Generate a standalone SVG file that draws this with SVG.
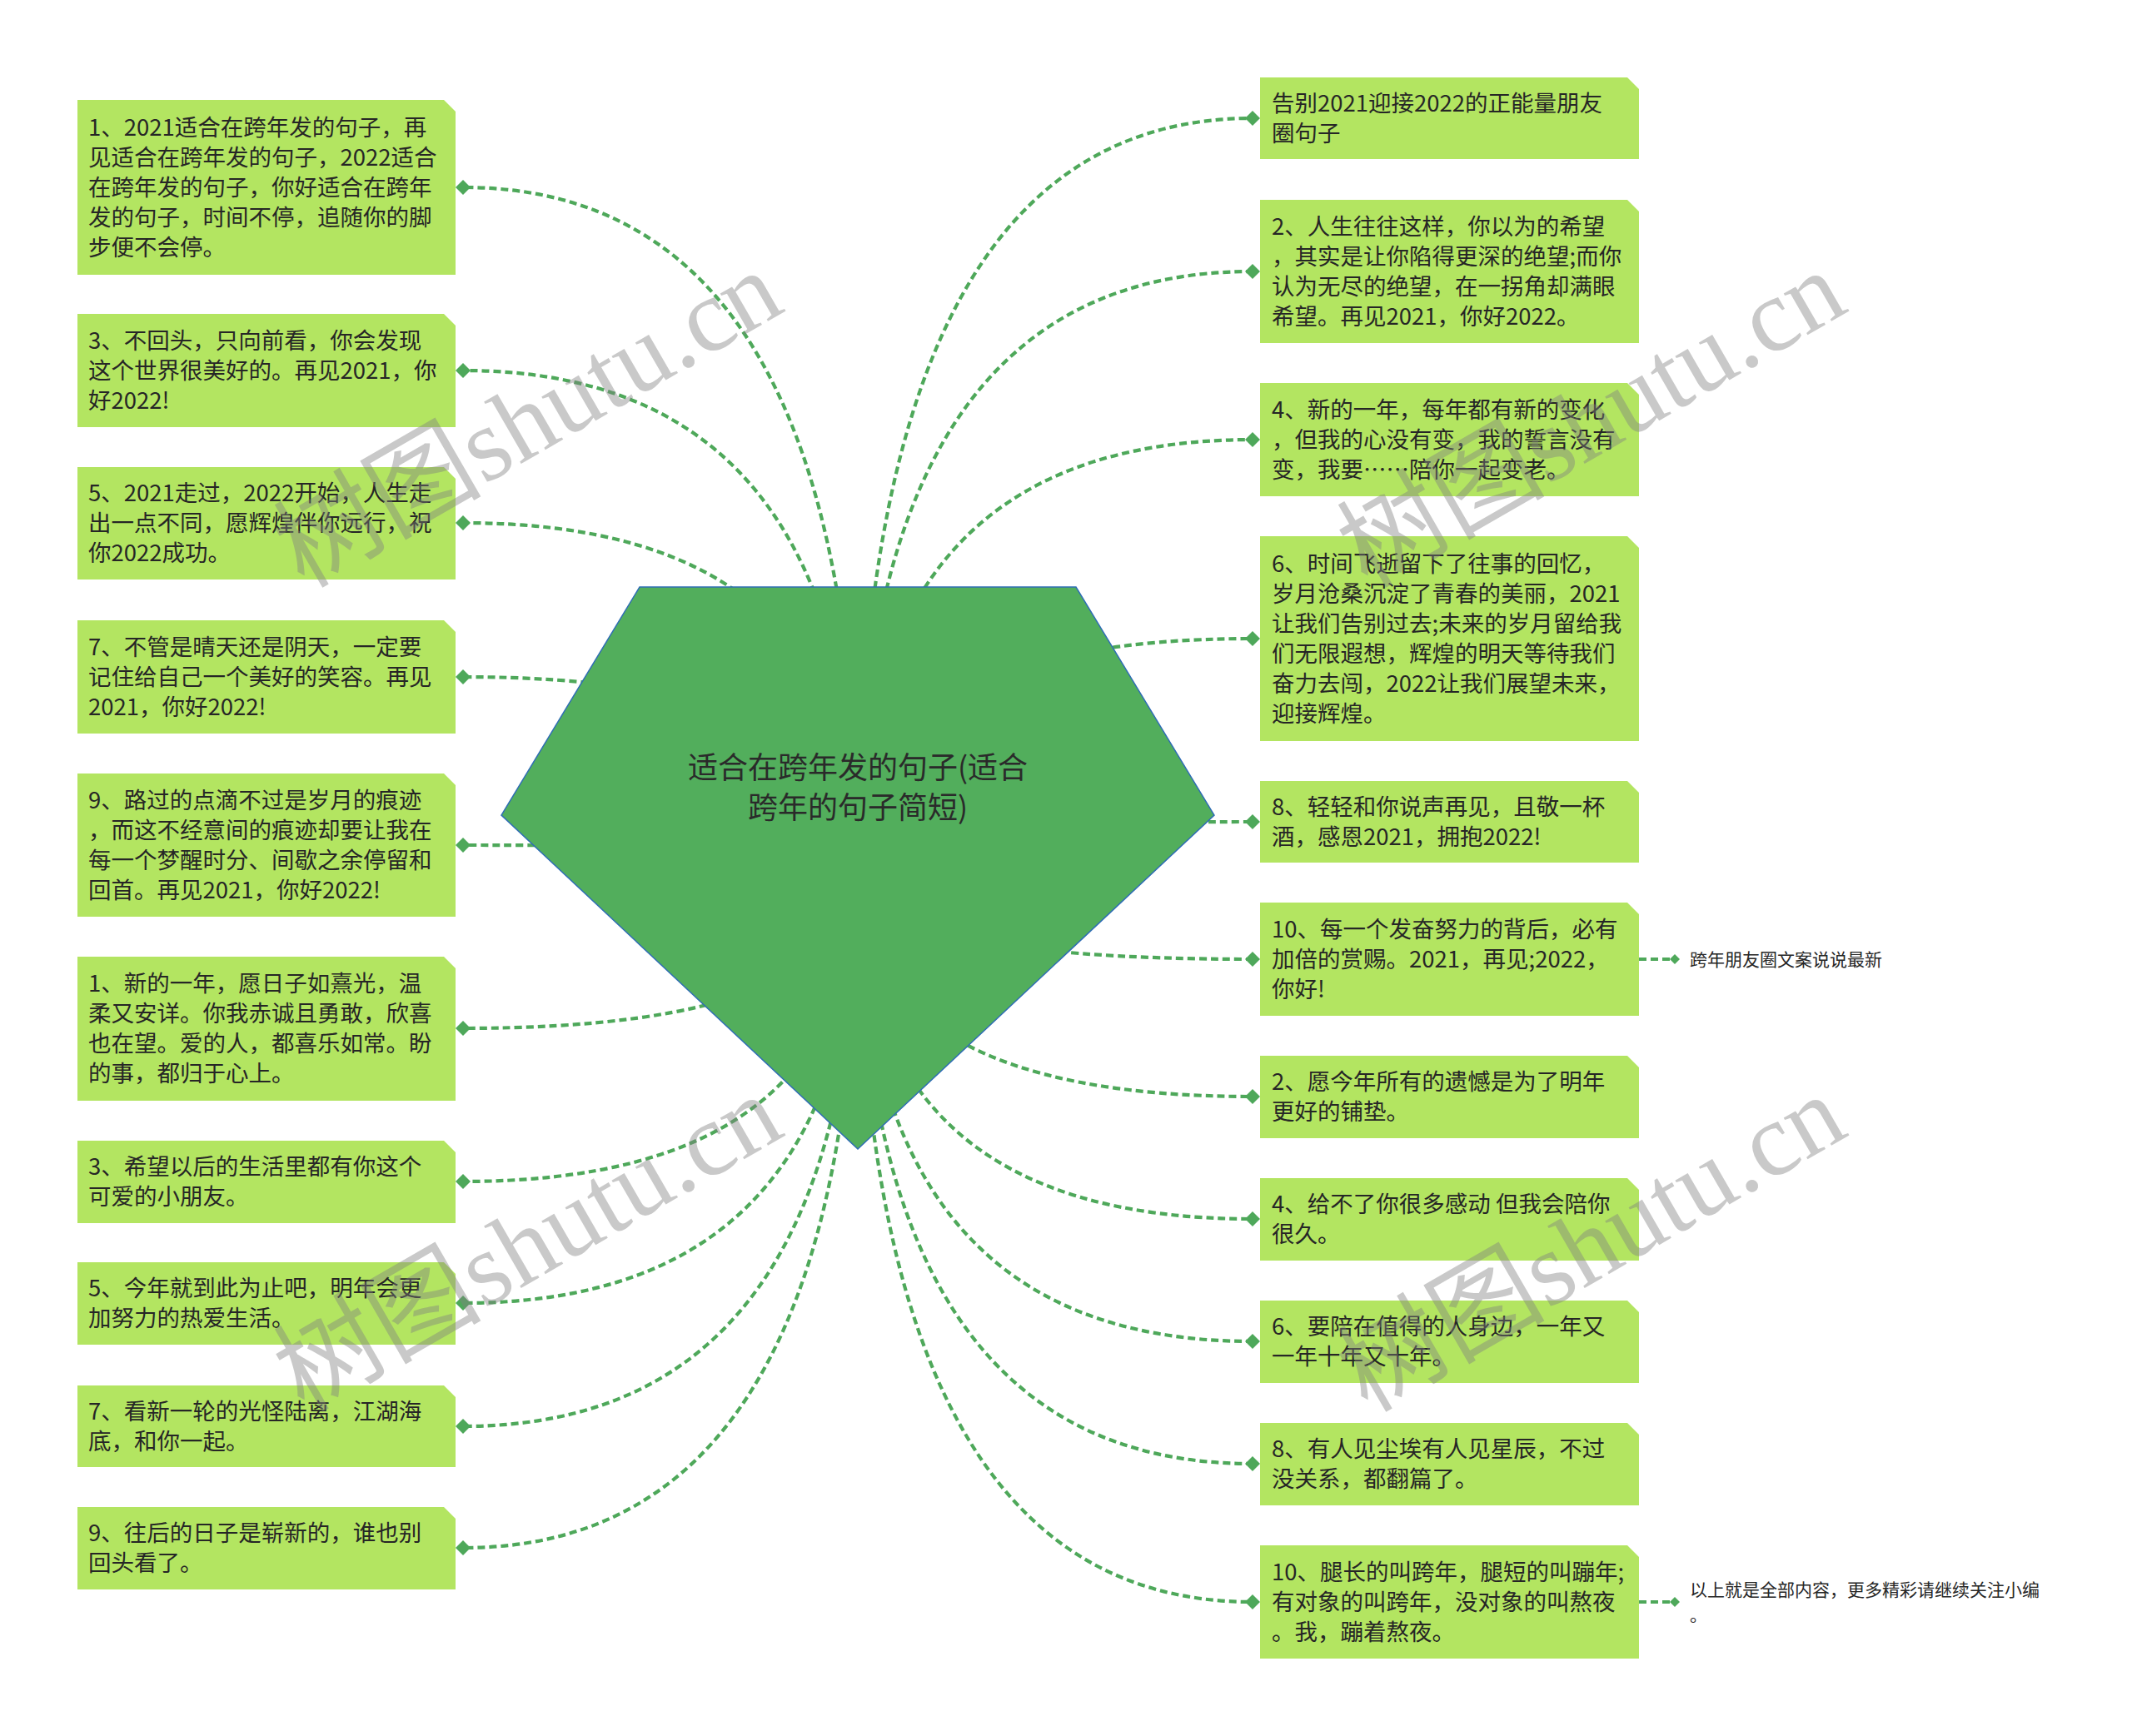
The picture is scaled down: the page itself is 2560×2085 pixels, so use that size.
<svg xmlns="http://www.w3.org/2000/svg" xmlns:xlink="http://www.w3.org/1999/xlink" width="2560" height="2085" viewBox="0 0 2560 2085">
<defs>
<style>
.conn{fill:none;stroke:#4ea85a;stroke-width:4.2;stroke-dasharray:9 5}
.dm{fill:#4ea85a}
.box{fill:#b3e561}
.t{font-family:"Noto Sans CJK SC","Noto Sans",sans-serif;font-size:27.5px;fill:#262626}
.small{font-family:"Noto Sans CJK SC","Noto Sans",sans-serif;font-size:21px;fill:#262626}
.center{font-family:"Noto Sans CJK SC","Noto Sans",sans-serif;font-size:36px;fill:#2a2a2a;text-anchor:middle}
.wm{font-family:"Liberation Serif","Noto Sans CJK SC",serif;font-size:125px;fill:#808080;opacity:0.42;text-anchor:middle}
</style>
<polygon id="dm" points="-9,0 0,-9 9,0 0,9"/>
<polygon id="sdm" points="-6,0 0,-6 6,0 0,6"/>
</defs>
<rect width="2560" height="2085" fill="#ffffff"/>

<g id="connectors">
<path class="conn" d="M1030 1042 Q1030 225 556 225"/>
<path class="conn" d="M1030 1042 Q1030 445 556 445"/>
<path class="conn" d="M1030 1042 Q1030 628 556 628"/>
<path class="conn" d="M1030 1042 Q1030 813 556 813"/>
<path class="conn" d="M1030 1042 Q1030 1015 556 1015"/>
<path class="conn" d="M1030 1042 Q1030 1235 556 1235"/>
<path class="conn" d="M1030 1042 Q1030 1419 556 1419"/>
<path class="conn" d="M1030 1042 Q1030 1565 556 1565"/>
<path class="conn" d="M1030 1042 Q1030 1713 556 1713"/>
<path class="conn" d="M1030 1042 Q1030 1859 556 1859"/>
<path class="conn" d="M1030 1042 Q1030 142 1504 142"/>
<path class="conn" d="M1030 1042 Q1030 326 1504 326"/>
<path class="conn" d="M1030 1042 Q1030 528 1504 528"/>
<path class="conn" d="M1030 1042 Q1030 767 1504 767"/>
<path class="conn" d="M1030 1042 Q1030 987 1504 987"/>
<path class="conn" d="M1030 1042 Q1030 1152 1504 1152"/>
<path class="conn" d="M1030 1042 Q1030 1317 1504 1317"/>
<path class="conn" d="M1030 1042 Q1030 1464 1504 1464"/>
<path class="conn" d="M1030 1042 Q1030 1611 1504 1611"/>
<path class="conn" d="M1030 1042 Q1030 1758 1504 1758"/>
<path class="conn" d="M1030 1042 Q1030 1924 1504 1924"/>
<path class="conn" d="M1968 1152 H2008"/>
<path class="conn" d="M1968 1924 H2008"/>
<g class="dm">
<use xlink:href="#dm" x="556" y="225"/>
<use xlink:href="#dm" x="556" y="445"/>
<use xlink:href="#dm" x="556" y="628"/>
<use xlink:href="#dm" x="556" y="813"/>
<use xlink:href="#dm" x="556" y="1015"/>
<use xlink:href="#dm" x="556" y="1235"/>
<use xlink:href="#dm" x="556" y="1419"/>
<use xlink:href="#dm" x="556" y="1565"/>
<use xlink:href="#dm" x="556" y="1713"/>
<use xlink:href="#dm" x="556" y="1859"/>
<use xlink:href="#dm" x="1504" y="142"/>
<use xlink:href="#dm" x="1504" y="326"/>
<use xlink:href="#dm" x="1504" y="528"/>
<use xlink:href="#dm" x="1504" y="767"/>
<use xlink:href="#dm" x="1504" y="987"/>
<use xlink:href="#dm" x="1504" y="1152"/>
<use xlink:href="#dm" x="1504" y="1317"/>
<use xlink:href="#dm" x="1504" y="1464"/>
<use xlink:href="#dm" x="1504" y="1611"/>
<use xlink:href="#dm" x="1504" y="1758"/>
<use xlink:href="#dm" x="1504" y="1924"/>
<use xlink:href="#sdm" x="2011" y="1152"/>
<use xlink:href="#sdm" x="2011" y="1924"/>
</g>
</g>

<g id="root">
<polygon points="768,705 1292,705 1458,979 1030,1380 602,979" fill="#52ae5c" stroke="#2f6db5" stroke-width="1.5"/>
<text class="center" x="1030" y="935">适合在跨年发的句子(适合</text>
<text class="center" x="1030" y="983">跨年的句子简短)</text>
</g>

<g id="L1"><path class="box" d="M93 120 H533 L547 134 V330 H93 Z"/>
<text class="t" x="106" y="163">1、2021适合在跨年发的句子，再</text>
<text class="t" x="106" y="199">见适合在跨年发的句子，2022适合</text>
<text class="t" x="106" y="235">在跨年发的句子，你好适合在跨年</text>
<text class="t" x="106" y="271">发的句子，时间不停，追随你的脚</text>
<text class="t" x="106" y="307">步便不会停。</text></g>

<g id="L2"><path class="box" d="M93 377 H533 L547 391 V513 H93 Z"/>
<text class="t" x="106" y="419">3、不回头，只向前看，你会发现</text>
<text class="t" x="106" y="455">这个世界很美好的。再见2021，你</text>
<text class="t" x="106" y="491">好2022!</text></g>

<g id="L3"><path class="box" d="M93 561 H533 L547 575 V696 H93 Z"/>
<text class="t" x="106" y="602">5、2021走过，2022开始，人生走</text>
<text class="t" x="106" y="638">出一点不同，愿辉煌伴你远行，祝</text>
<text class="t" x="106" y="674">你2022成功。</text></g>

<g id="L4"><path class="box" d="M93 745 H533 L547 759 V881 H93 Z"/>
<text class="t" x="106" y="787">7、不管是晴天还是阴天，一定要</text>
<text class="t" x="106" y="823">记住给自己一个美好的笑容。再见</text>
<text class="t" x="106" y="859">2021，你好2022!</text></g>

<g id="L5"><path class="box" d="M93 929 H533 L547 943 V1101 H93 Z"/>
<text class="t" x="106" y="971">9、路过的点滴不过是岁月的痕迹</text>
<text class="t" x="106" y="1007">，而这不经意间的痕迹却要让我在</text>
<text class="t" x="106" y="1043">每一个梦醒时分、间歇之余停留和</text>
<text class="t" x="106" y="1079">回首。再见2021，你好2022!</text></g>

<g id="L6"><path class="box" d="M93 1149 H533 L547 1163 V1322 H93 Z"/>
<text class="t" x="106" y="1191">1、新的一年，愿日子如熹光，温</text>
<text class="t" x="106" y="1227">柔又安详。你我赤诚且勇敢，欣喜</text>
<text class="t" x="106" y="1263">也在望。爱的人，都喜乐如常。盼</text>
<text class="t" x="106" y="1299">的事，都归于心上。</text></g>

<g id="L7"><path class="box" d="M93 1370 H533 L547 1384 V1469 H93 Z"/>
<text class="t" x="106" y="1411">3、希望以后的生活里都有你这个</text>
<text class="t" x="106" y="1447">可爱的小朋友。</text></g>

<g id="L8"><path class="box" d="M93 1516 H533 L547 1530 V1615 H93 Z"/>
<text class="t" x="106" y="1557">5、今年就到此为止吧，明年会更</text>
<text class="t" x="106" y="1593">加努力的热爱生活。</text></g>

<g id="L9"><path class="box" d="M93 1664 H533 L547 1678 V1762 H93 Z"/>
<text class="t" x="106" y="1705">7、看新一轮的光怪陆离，江湖海</text>
<text class="t" x="106" y="1741">底，和你一起。</text></g>

<g id="L10"><path class="box" d="M93 1810 H533 L547 1824 V1909 H93 Z"/>
<text class="t" x="106" y="1851">9、往后的日子是崭新的，谁也别</text>
<text class="t" x="106" y="1887">回头看了。</text></g>

<g id="R1"><path class="box" d="M1513 93 H1954 L1968 107 V191 H1513 Z"/>
<text class="t" x="1527" y="134">告别2021迎接2022的正能量朋友</text>
<text class="t" x="1527" y="170">圈句子</text></g>

<g id="R2"><path class="box" d="M1513 240 H1954 L1968 254 V412 H1513 Z"/>
<text class="t" x="1527" y="282">2、人生往往这样，你以为的希望</text>
<text class="t" x="1527" y="318">，其实是让你陷得更深的绝望;而你</text>
<text class="t" x="1527" y="354">认为无尽的绝望，在一拐角却满眼</text>
<text class="t" x="1527" y="390">希望。再见2021，你好2022。</text></g>

<g id="R3"><path class="box" d="M1513 460 H1954 L1968 474 V596 H1513 Z"/>
<text class="t" x="1527" y="502">4、新的一年，每年都有新的变化</text>
<text class="t" x="1527" y="538">，但我的心没有变，我的誓言没有</text>
<text class="t" x="1527" y="574">变，我要……陪你一起变老。</text></g>

<g id="R4"><path class="box" d="M1513 644 H1954 L1968 658 V890 H1513 Z"/>
<text class="t" x="1527" y="687">6、时间飞逝留下了往事的回忆，</text>
<text class="t" x="1527" y="723">岁月沧桑沉淀了青春的美丽，2021</text>
<text class="t" x="1527" y="759">让我们告别过去;未来的岁月留给我</text>
<text class="t" x="1527" y="795">们无限遐想，辉煌的明天等待我们</text>
<text class="t" x="1527" y="831">奋力去闯，2022让我们展望未来，</text>
<text class="t" x="1527" y="867">迎接辉煌。</text></g>

<g id="R5"><path class="box" d="M1513 938 H1954 L1968 952 V1036 H1513 Z"/>
<text class="t" x="1527" y="979">8、轻轻和你说声再见，且敬一杯</text>
<text class="t" x="1527" y="1015">酒，感恩2021，拥抱2022!</text></g>

<g id="R6"><path class="box" d="M1513 1084 H1954 L1968 1098 V1220 H1513 Z"/>
<text class="t" x="1527" y="1126">10、每一个发奋努力的背后，必有</text>
<text class="t" x="1527" y="1162">加倍的赏赐。2021，再见;2022，</text>
<text class="t" x="1527" y="1198">你好!</text></g>

<g id="R6a"><text class="small" x="2029" y="1160">跨年朋友圈文案说说最新</text></g>

<g id="R7"><path class="box" d="M1513 1268 H1954 L1968 1282 V1367 H1513 Z"/>
<text class="t" x="1527" y="1309">2、愿今年所有的遗憾是为了明年</text>
<text class="t" x="1527" y="1345">更好的铺垫。</text></g>

<g id="R8"><path class="box" d="M1513 1415 H1954 L1968 1429 V1514 H1513 Z"/>
<text class="t" x="1527" y="1456">4、给不了你很多感动 但我会陪你</text>
<text class="t" x="1527" y="1492">很久。</text></g>

<g id="R9"><path class="box" d="M1513 1562 H1954 L1968 1576 V1661 H1513 Z"/>
<text class="t" x="1527" y="1603">6、要陪在值得的人身边，一年又</text>
<text class="t" x="1527" y="1639">一年十年又十年。</text></g>

<g id="R10"><path class="box" d="M1513 1709 H1954 L1968 1723 V1808 H1513 Z"/>
<text class="t" x="1527" y="1750">8、有人见尘埃有人见星辰，不过</text>
<text class="t" x="1527" y="1786">没关系，都翻篇了。</text></g>

<g id="R11"><path class="box" d="M1513 1856 H1954 L1968 1870 V1992 H1513 Z"/>
<text class="t" x="1527" y="1898">10、腿长的叫跨年，腿短的叫蹦年;</text>
<text class="t" x="1527" y="1934">有对象的叫跨年，没对象的叫熬夜</text>
<text class="t" x="1527" y="1970">。我，蹦着熬夜。</text></g>

<g id="R11a"><text class="small" x="2029" y="1917">以上就是全部内容，更多精彩请继续关注小编</text>
<text class="small" x="2029" y="1947">。</text></g>

<g id="watermarks">
<text class="wm" x="655" y="540" transform="rotate(-30 655 540)">树图shutu.cn</text>
<text class="wm" x="1932" y="540" transform="rotate(-30 1932 540)">树图shutu.cn</text>
<text class="wm" x="655" y="1530" transform="rotate(-30 655 1530)">树图shutu.cn</text>
<text class="wm" x="1932" y="1530" transform="rotate(-30 1932 1530)">树图shutu.cn</text>
</g>
</svg>
